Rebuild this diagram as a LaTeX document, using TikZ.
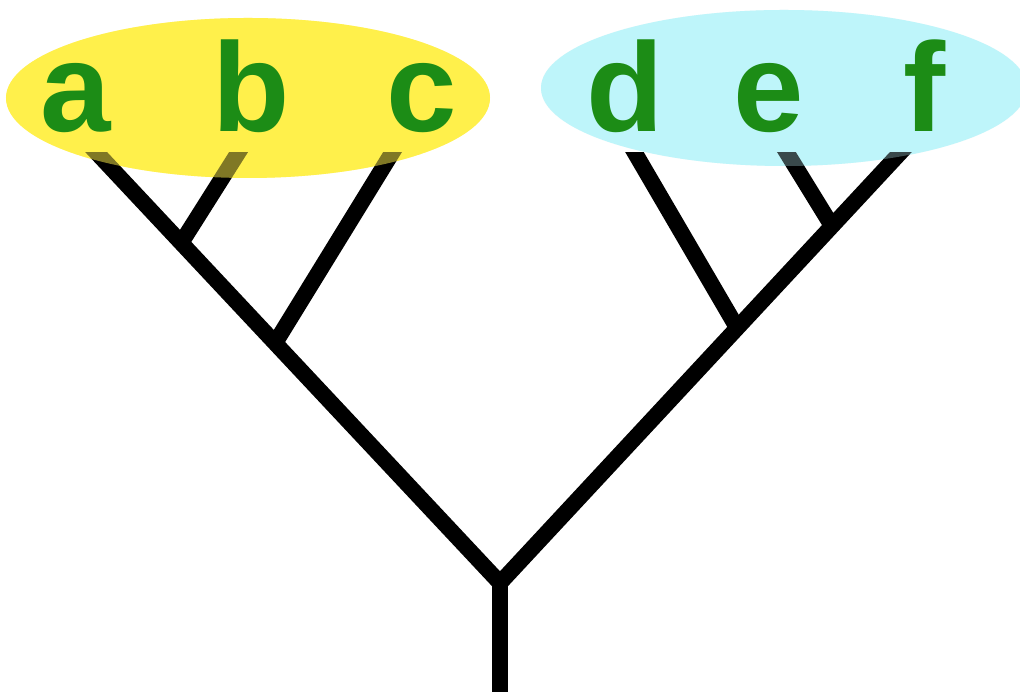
\documentclass[tikz,border=0pt]{standalone}
\usepackage{fontspec}
\setmainfont{Liberation Sans}
\usetikzlibrary{calc}
\definecolor{leafgreen}{RGB}{28,140,22}
\definecolor{cladeyellow}{RGB}{255,240,75}
\definecolor{cladecyan}{RGB}{190,245,250}
\tikzset{
  branch/.style={line width=0.16cm, black, line cap=butt, line join=miter},
  leaf/.style={font=\fontsize{36}{36}\selectfont\bfseries, text=leafgreen, anchor=base, inner sep=0pt},
}
\begin{document}
\begin{tikzpicture}[x=0.01cm, y=-0.01cm]
  \useasboundingbox (0,0) rectangle (1020,692);
  \fill[white] (0,0) rectangle (1020,692);

  % clade backgrounds
  \fill[cladeyellow] (248,98) ellipse [x radius=242, y radius=80];
  \fill[cladecyan] (784,88) ellipse [x radius=243, y radius=78];

  % tree skeleton
  \coordinate (base) at (500,692);
  \coordinate (root) at (500,583);
  \coordinate (ta) at (97,153);
  \coordinate (tb) at (238,153);
  \coordinate (tc) at (392,153);
  \coordinate (td) at (635,153);
  \coordinate (te) at (787,153);
  \coordinate (tf) at (900,153);
  \coordinate (jab) at ($(root)!0.791!(ta)$);
  \coordinate (jabc) at ($(root)!0.558!(ta)$);
  \coordinate (jef) at ($(root)!0.830!(tf)$);
  \coordinate (jdef) at ($(root)!0.593!(tf)$);

  \begin{scope}
    \clip (0,153) rectangle (1020,692);
    \draw[branch] ($(root)!1.03!(ta)$) -- (root) -- ($(root)!1.03!(tf)$);
    \draw[branch] (base) -- (root);
    \draw[branch] (jab) -- ($(jab)!1.1!(tb)$);
    \draw[branch] (jabc) -- ($(jabc)!1.05!(tc)$);
    \draw[branch] (jdef) -- ($(jdef)!1.05!(td)$);
    \draw[branch] (jef) -- ($(jef)!1.15!(te)$);
  \end{scope}

  % tinted overlay where branches enter the clades
  \fill[cladeyellow, fill opacity=0.5] (248,98) ellipse [x radius=242, y radius=80];
  \fill[cladecyan, fill opacity=0.3] (784,88) ellipse [x radius=243, y radius=78];

  % leaf labels
  \node[leaf] (a) at (76,132) {a};
  \node[leaf] (b) at (251,132) {b};
  \node[leaf] (c) at (422,132) {c};
  \node[leaf] (d) at (625,132) {d};
  \node[leaf] (e) at (769,132) {e};
  \node[leaf] (f) at (925,132) {f};
\end{tikzpicture}
\end{document}
